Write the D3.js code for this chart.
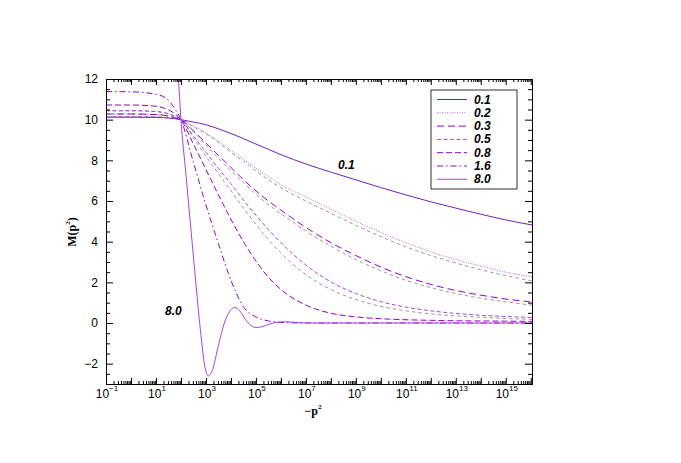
<!DOCTYPE html>
<html lang="en">
<head>
<meta charset="utf-8">
<title>M(p2) curves</title>
<script src="https://cdn.jsdelivr.net/npm/d3@7"></script>
<style>
  body { margin: 0; background: #fff; }
</style>
</head>
<body>
<svg id="canvas"></svg>
<script>

const width = 681;
const height = 463;
const plot = { left: 106, right: 532, top: 79, bottom: 384 };

// log10(-p^2) sample points shared by the smooth curves
const logP = [-1, 0, 1, 1.5, 1.75, 2, 2.5, 3, 3.5, 4, 4.5, 5, 5.5, 6, 7, 8, 9, 10, 11, 12, 13, 14, 15, 16.05];

const m01 = [10.12, 10.12, 10.11, 10.08, 10.05, 10.0, 9.88, 9.75, 9.55, 9.32, 9.07, 8.8, 8.54, 8.28, 7.82, 7.42, 7.04, 6.66, 6.3, 5.96, 5.65, 5.35, 5.07, 4.82];
const m02 = [10.15, 10.15, 10.14, 10.1, 10.06, 10.0, 9.7, 9.35, 8.95, 8.5, 8.05, 7.6, 7.2, 6.8, 6.2, 5.6, 5.0, 4.45, 3.95, 3.5, 3.12, 2.8, 2.5, 2.26];
const m03 = [10.28, 10.28, 10.25, 10.18, 10.1, 10.0, 9.45, 8.85, 8.25, 7.65, 7.05, 6.5, 6.0, 5.55, 4.7, 3.95, 3.32, 2.75, 2.28, 1.9, 1.6, 1.37, 1.18, 1.03];
const m05 = [10.44, 10.44, 10.4, 10.29, 10.17, 10.0, 9.2, 8.4, 7.6, 6.85, 6.05, 5.3, 4.6, 3.95, 2.85, 2.02, 1.45, 1.05, 0.78, 0.6, 0.47, 0.38, 0.32, 0.27];
const m08 = [10.72, 10.72, 10.66, 10.48, 10.3, 10.0, 8.8, 7.55, 6.3, 5.1, 4.0, 3.05, 2.25, 1.65, 0.88, 0.48, 0.3, 0.21, 0.16, 0.13, 0.11, 0.1, 0.09, 0.08];
const m16 = [11.38, 11.37, 11.25, 10.95, 10.55, 10.0, 7.9, 5.8, 3.9, 2.1, 0.8, 0.3, 0.1, 0.03, 0, 0, 0, 0, 0, 0, 0, 0, 0, 0];

// grey companion curves (no legend entry)
const g02 = [10.15, 10.15, 10.14, 10.1, 10.06, 10.0, 9.65, 9.3, 8.88, 8.4, 7.95, 7.48, 7.05, 6.65, 6.0, 5.4, 4.8, 4.25, 3.75, 3.32, 2.95, 2.62, 2.33, 2.07];
const g03 = [10.28, 10.28, 10.25, 10.18, 10.1, 10.0, 9.4, 8.75, 8.1, 7.5, 6.9, 6.33, 5.82, 5.38, 4.52, 3.78, 3.12, 2.57, 2.1, 1.74, 1.45, 1.22, 1.04, 0.88];
const g05 = [10.44, 10.44, 10.4, 10.29, 10.17, 10.0, 9.1, 8.2, 7.35, 6.5, 5.65, 4.85, 4.1, 3.45, 2.38, 1.65, 1.15, 0.82, 0.6, 0.45, 0.35, 0.28, 0.22, 0.18];

// the oscillating 8.0 curve needs its own, finer sampling
const logP80 = [1.5, 1.75, 1.9, 2.0, 2.2, 2.4, 2.6, 2.8, 2.95, 3.1, 3.25, 3.5, 3.75, 4.0, 4.15, 4.35, 4.6, 4.8, 5.0, 5.2, 5.5, 5.8, 6.2, 6.6, 7.2, 8, 10, 12, 14, 16.05];
const m80 = [20, 14.5, 12, 10, 7.3, 4.6, 1.9, -0.6, -2.1, -2.6, -2.35, -1.1, 0.05, 0.65, 0.77, 0.6, 0.15, -0.12, -0.22, -0.2, -0.07, 0.03, 0.06, 0.03, 0, 0, 0, 0, 0, 0];

const labels = ["0.1", "0.2", "0.3", "0.5", "0.8", "1.6", "8.0"];
const yTicks = [-2, 0, 2, 4, 6, 8, 10, 12];
const xExps = d3.range(-1, 17);          // a major tick at every decade
const xLabelExps = [-1, 1, 3, 5, 7, 9, 11, 13, 15];

const svg = d3.select("#canvas")
  .attr("width", width)
  .attr("height", height)
  .attr("viewBox", [0, 0, width, height]);

svg.append("rect").attr("width", width).attr("height", height).attr("fill", "#fff");

const x = d3.scaleLog()
  .domain([0.1, Math.pow(10, 16.05)])
  .range([plot.left, plot.right]);

const y = d3.scaleLinear()
  .domain([-3, 12])
  .range([plot.bottom, plot.top]);

const violet = "#9400d3";
const styles = {
  "0.1": { color: "#7221bc", dash: null },
  "0.2": { color: "#b35ee6", dash: "1,1.5" },
  "0.3": { color: violet, dash: "7,4" },
  "0.5": { color: "#a64ae0", dash: "4,2.5" },
  "0.8": { color: violet, dash: "6,3" },
  "1.6": { color: violet, dash: "6,3,1.5,3" },
  "8.0": { color: "#a445e0", dash: null }
};

const series = [
  { label: "0.1", xs: logP, ys: m01 },
  { label: "0.2", xs: logP, ys: m02 },
  { label: "0.3", xs: logP, ys: m03 },
  { label: "0.5", xs: logP, ys: m05 },
  { label: "0.8", xs: logP, ys: m08 },
  { label: "1.6", xs: logP, ys: m16 },
  { label: "8.0", xs: logP80, ys: m80 }
];
const greys = [g02, g03, g05];

svg.append("clipPath").attr("id", "clip")
  .append("rect")
  .attr("x", plot.left).attr("y", plot.top)
  .attr("width", plot.right - plot.left)
  .attr("height", plot.bottom - plot.top);

const line = d3.line()
  .x(d => x(Math.pow(10, d[0])))
  .y(d => y(d[1]))
  .curve(d3.curveMonotoneX);

const curves = svg.append("g").attr("clip-path", "url(#clip)").attr("fill", "none");

// grey ones first, so the violet curves sit on top
greys.forEach(g => {
  curves.append("path")
    .attr("d", line(d3.zip(logP, g)))
    .attr("stroke", "#9a9a9a")
    .attr("stroke-width", 1)
    .attr("stroke-dasharray", "3.5,3");
});

series.forEach(s => {
  const st = styles[s.label];
  curves.append("path")
    .attr("d", line(d3.zip(s.xs, s.ys)))
    .attr("stroke", st.color)
    .attr("stroke-width", 1)
    .attr("stroke-dasharray", st.dash);
});

// axes, ticks pointing inwards on all four sides
const tickFont = "Liberation Sans, Arial, Helvetica, sans-serif";
const minorX = [];
xExps.forEach(e => {
  for (let k = 2; k <= 9; k++) {
    const v = k * Math.pow(10, e);
    if (v < x.domain()[1]) minorX.push(v);
  }
});
const minorY = d3.range(-3, 12.01, 0.5).filter(v => !yTicks.includes(v));
const majorX = xExps.map(e => Math.pow(10, e));

function drawAxis(gen, transform) {
  svg.append("g").attr("transform", transform).call(gen)
    .call(g => g.selectAll(".domain").attr("stroke", "#000"))
    .call(g => g.selectAll(".tick line").attr("stroke", "#000"));
}

drawAxis(d3.axisBottom(x).tickValues(majorX).tickFormat("").tickSizeInner(-6).tickSizeOuter(0), `translate(0,${plot.bottom})`);
drawAxis(d3.axisBottom(x).tickValues(minorX).tickFormat("").tickSizeInner(-3).tickSizeOuter(0), `translate(0,${plot.bottom})`);
drawAxis(d3.axisTop(x).tickValues(majorX).tickFormat("").tickSizeInner(-6).tickSizeOuter(0), `translate(0,${plot.top})`);
drawAxis(d3.axisTop(x).tickValues(minorX).tickFormat("").tickSizeInner(-3).tickSizeOuter(0), `translate(0,${plot.top})`);

drawAxis(d3.axisLeft(y).tickValues(yTicks).tickSizeInner(-7).tickSizeOuter(0).tickPadding(8), `translate(${plot.left},0)`);
drawAxis(d3.axisLeft(y).tickValues(minorY).tickFormat("").tickSizeInner(-4).tickSizeOuter(0), `translate(${plot.left},0)`);
drawAxis(d3.axisRight(y).tickValues(yTicks).tickFormat("").tickSizeInner(-7).tickSizeOuter(0), `translate(${plot.right},0)`);
drawAxis(d3.axisRight(y).tickValues(minorY).tickFormat("").tickSizeInner(-4).tickSizeOuter(0), `translate(${plot.right},0)`);

svg.selectAll(".tick text")
  .attr("font-family", tickFont)
  .attr("font-size", 12)
  .attr("fill", "#000");

// x tick labels 10^n
const xl = svg.append("g").attr("font-family", tickFont).attr("fill", "#000");
xLabelExps.forEach(e => {
  const t = xl.append("text")
    .attr("x", x(Math.pow(10, e)) + 1)
    .attr("y", plot.bottom + 14)
    .attr("text-anchor", "middle")
    .attr("font-size", 12);
  t.append("tspan").text("10");
  t.append("tspan").attr("dy", -7).attr("font-size", 8).text(e < 0 ? "\u2212" + (-e) : e);
});

// axis titles
const serif = "Liberation Serif, Times New Roman, serif";
const xt = svg.append("text")
  .attr("x", 313).attr("y", 415)
  .attr("text-anchor", "middle")
  .attr("font-family", serif).attr("font-weight", "bold").attr("font-size", 12);
xt.append("tspan").text("\u2212p");
xt.append("tspan").attr("dy", -6).attr("font-size", 7).text("2");

const yt = svg.append("text")
  .attr("transform", `translate(76,232) rotate(-90)`)
  .attr("text-anchor", "middle")
  .attr("font-family", serif).attr("font-weight", "bold").attr("font-size", 12);
yt.append("tspan").text("M(p");
yt.append("tspan").attr("dy", -6).attr("font-size", 7).text("2");
yt.append("tspan").attr("dy", 6).text(")");

// labels written on the curves
svg.append("text").attr("x", 338).attr("y", 169)
  .attr("font-family", tickFont).attr("font-weight", "bold").attr("font-style", "italic")
  .attr("font-size", 12).text("0.1");
svg.append("text").attr("x", 165).attr("y", 315)
  .attr("font-family", tickFont).attr("font-weight", "bold").attr("font-style", "italic")
  .attr("font-size", 12).text("8.0");

// legend
const legend = svg.append("g");
legend.append("rect")
  .attr("x", 431).attr("y", 90)
  .attr("width", 86).attr("height", 99)
  .attr("fill", "#fff").attr("stroke", "#000").attr("stroke-width", 0.8);

labels.forEach((lab, i) => {
  const ly = 99.5 + i * 13.3;
  const st = styles[lab];
  legend.append("line")
    .attr("x1", 437).attr("x2", 467)
    .attr("y1", ly).attr("y2", ly)
    .attr("stroke", st.color).attr("stroke-width", 1)
    .attr("stroke-dasharray", st.dash);
  legend.append("text")
    .attr("x", 474).attr("y", ly + 4)
    .attr("font-family", tickFont).attr("font-weight", "bold").attr("font-style", "italic")
    .attr("font-size", 12)
    .text(lab);
});

</script>
</body>
</html>
